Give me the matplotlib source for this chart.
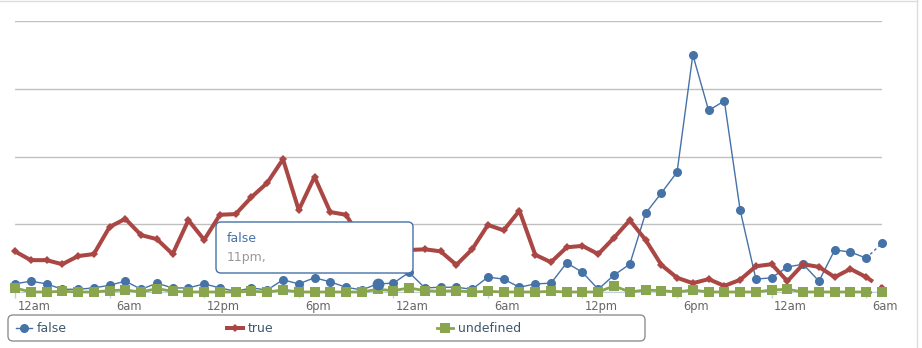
import matplotlib
matplotlib.use("Agg")
import matplotlib.pyplot as plt
from matplotlib.patches import FancyBboxPatch
from matplotlib.lines import Line2D
from matplotlib.transforms import IdentityTransform, ScaledTranslation

# hourly counts, starting at 12am
hours = list(range(56))
tick_labels = ["12am", "6am", "12pm", "6pm", "12am", "6am", "12pm", "6pm", "12am", "6am"]

false_vals = [1.2, 1.6, 1.2, 0.4, 0.4, 0.6, 1.0, 1.6, 0.4, 1.3,
              0.6, 0.6, 1.2, 0.6, 0.1, 0.6, 0.3, 1.8, 1.2, 2.1,
              1.5, 0.7, 0.3, 1.2, 1.3, 2.9, 0.6, 0.7, 0.7, 0.4,
              2.2, 1.9, 0.7, 1.2, 1.3, 4.3, 2.9, 0.4, 2.5, 4.1,
              11.6, 14.6, 17.7, 35.0, 26.8, 28.2, 12.1, 1.9, 2.1, 3.7,
              4.1, 1.6, 6.2, 5.9, 5.0, 7.2]
true_vals = [6.0, 4.7, 4.7, 4.1, 5.3, 5.6, 9.6, 10.8, 8.4, 7.8,
             5.6, 10.6, 7.7, 11.4, 11.5, 14.0, 16.1, 19.6, 12.1, 17.0,
             11.8, 11.4, 7.6, 6.6, 6.1, 6.2, 6.3, 6.0, 4.0, 6.3,
             9.9, 9.1, 12.0, 5.5, 4.4, 6.6, 6.8, 5.6, 8.0, 10.6,
             7.7, 4.0, 2.1, 1.3, 1.9, 0.9, 1.8, 3.8, 4.1, 1.6,
             4.1, 3.7, 2.2, 3.4, 2.2, 0.6]
undef_vals = [0.6, 0.0, 0.0, 0.1, 0.0, 0.0, 0.2, 0.3, 0.0, 0.5,
              0.1, 0.0, 0.0, 0.0, 0.0, 0.1, 0.0, 0.3, 0.0, 0.0,
              0.0, 0.0, 0.0, 0.4, 0.2, 0.6, 0.2, 0.1, 0.2, 0.0,
              0.1, 0.0, 0.0, 0.0, 0.1, 0.0, 0.0, 0.0, 0.9, 0.0,
              0.3, 0.2, 0.0, 0.3, 0.0, 0.0, 0.0, 0.0, 0.3, 0.4,
              0.0, 0.0, 0.0, 0.0, 0.0, 0.0]
hover_idx = 23

BLUE = "#4572A7"
RED = "#AA4643"
GREEN = "#89A54E"
W, H = 922, 348

fig = plt.figure(figsize=(W / 100, H / 100), dpi=100)
ax = fig.add_axes([15 / W, 56 / H, 867 / W, 271 / H])

series = [
    (false_vals, BLUE, 1.0, "o", 6.5),
    (true_vals, RED, 2.9, "D", 4.0),
    (undef_vals, GREEN, 2.0, "s", 6.6),
]
for vals, col, lw, mk, ms in series:
    ax.plot(hours[:-1], vals[:-1], color=col, lw=lw, marker=mk, ms=ms,
            mew=0, clip_on=False, zorder=3)
    # last (incomplete) hour drawn dashed
    ax.plot(hours[-2:], vals[-2:], color=col, lw=lw, ls=(0, (2, 2)),
            clip_on=False, zorder=3)
    ax.plot(hours[-1:], vals[-1:], color=col, marker=mk, ms=ms, mew=0,
            ls="none", clip_on=False, zorder=3)

# hovered point
ax.plot([hours[hover_idx]], [false_vals[hover_idx]], marker="o", ms=8.5,
        color=BLUE, mew=0, ls="none", clip_on=False, zorder=3)

ax.set_xlim(0, 55)
ax.set_ylim(0, 40)
ax.set_yticks([0, 10, 20, 30, 40])
ax.set_yticklabels([])
ax.grid(axis="y", color="#C0C0C0", lw=1)
ax.tick_params(axis="y", length=0)
ax.set_xticks(hours[::6])
ax.set_xticklabels(tick_labels, fontsize=8.3, color="#666666")
ax.tick_params(axis="x", length=4, width=1, color="#C0D0E0", pad=2)
offset = ScaledTranslation(19 / 100, 0, fig.dpi_scale_trans)
for lab in ax.get_xticklabels():
    lab.set_transform(lab.get_transform() + offset)
for s in ["top", "right", "left"]:
    ax.spines[s].set_visible(False)
ax.spines["bottom"].set_color("#C0D0E0")
ax.set_axisbelow(True)

# container border (top and right)
fig.add_artist(Line2D([0, 917], [H - 0.5, H - 0.5], transform=IdentityTransform(),
                      color="#DDDDDD", lw=1))
fig.add_artist(Line2D([917, 917], [0, H], transform=IdentityTransform(),
                      color="#DDDDDD", lw=1))

# legend box
fig.add_artist(FancyBboxPatch((8, H - 341), 637, 26, boxstyle="round,pad=0,rounding_size=5",
                              transform=IdentityTransform(), fc="white", ec="#909090", lw=1))
legend_items = [("false", BLUE, 1.0, "o", 6.5, 16),
                ("true", RED, 2.9, "D", 4.0, 227),
                ("undefined", GREEN, 2.0, "s", 6.6, 437)]
ly = H - 328
for name, col, lw, mk, ms, x0 in legend_items:
    fig.add_artist(Line2D([x0, x0 + 16], [ly, ly], transform=IdentityTransform(),
                          color=col, lw=lw))
    fig.add_artist(Line2D([x0 + 8], [ly], transform=IdentityTransform(),
                          color=col, marker=mk, ms=ms, mew=0))
    fig.text(x0 + 21, ly, name, transform=IdentityTransform(), fontsize=9,
             color="#3E576F", va="center", ha="left")

# tooltip
fig.add_artist(FancyBboxPatch((216, H - 273), 197, 51, boxstyle="round,pad=0,rounding_size=5",
                              transform=IdentityTransform(), fc="white", ec=BLUE,
                              lw=1, zorder=5))
fig.text(227, H - 239, "false", transform=IdentityTransform(), fontsize=9,
         color=BLUE, va="center", ha="left", zorder=6)
fig.text(227, H - 258, "11pm,", transform=IdentityTransform(), fontsize=9,
         color="#999999", va="center", ha="left", zorder=6)

fig.savefig("out.png", dpi=100)
